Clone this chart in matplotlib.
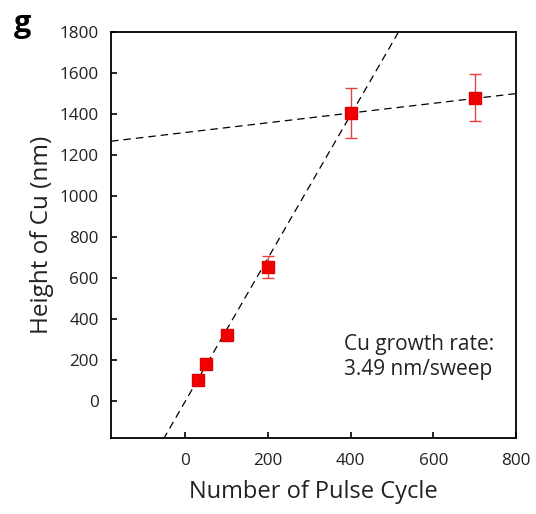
import matplotlib
matplotlib.use('Agg')
import matplotlib.pyplot as plt
import numpy as np

plt.rcParams['font.family'] = ['Open Sans', 'DejaVu Sans']

# data
cycles = [30, 50, 100, 200, 400, 700]
height = [105, 180, 320, 655, 1405, 1480]
height_err = [10, 10, 15, 55, 120, 115]

rate = 3.49          # nm/sweep, steep fit
flat_slope = 0.237   # saturated regime fit
flat_icpt = 1310

txt = '#222222'

fig = plt.figure(figsize=(5.36, 5.14), dpi=100)
ax = fig.add_axes([111/536, 1 - 438/514, 405/536, 406/514])

xs = np.array([-180, 800])
ax.plot(xs, rate * xs, color='black', lw=0.9, ls=(0, (6, 4)))
ax.plot(xs, flat_slope * xs + flat_icpt, color='black', lw=0.9, ls=(0, (6, 4)))
ax.errorbar(cycles, height, yerr=height_err, fmt='s', color='#f00000', ms=9,
            mec='#e00000', ecolor='#e84040', elinewidth=1, capsize=4, capthick=1, zorder=3)

ax.set_xlim(-180, 800)
ax.set_ylim(-180, 1800)
ax.set_xticks([0, 200, 400, 600, 800])
ax.set_yticks(range(0, 1801, 200))
ax.tick_params(direction='in', length=4, width=1.2, labelsize=12.3, color='black',
               labelcolor=txt)
ax.tick_params(axis='x', pad=11)
ax.tick_params(axis='y', pad=9)
for s in ax.spines.values():
    s.set_linewidth(1.3)

ax.set_xlabel('Number of Pulse Cycle', fontsize=17, labelpad=8, color=txt)
ax.set_ylabel('Height of Cu (nm)', fontsize=17.5, labelpad=4, color=txt)

ax.text(0.575, 0.20, 'Cu growth rate:\n3.49 nm/sweep', transform=ax.transAxes,
        fontsize=15, linespacing=1.25, va='center', ha='left', color=txt)
fig.text(14/536, 1 - 24/514, 'g', fontsize=22, fontweight='bold', va='center', ha='left')

fig.savefig('out.png', dpi=100)
